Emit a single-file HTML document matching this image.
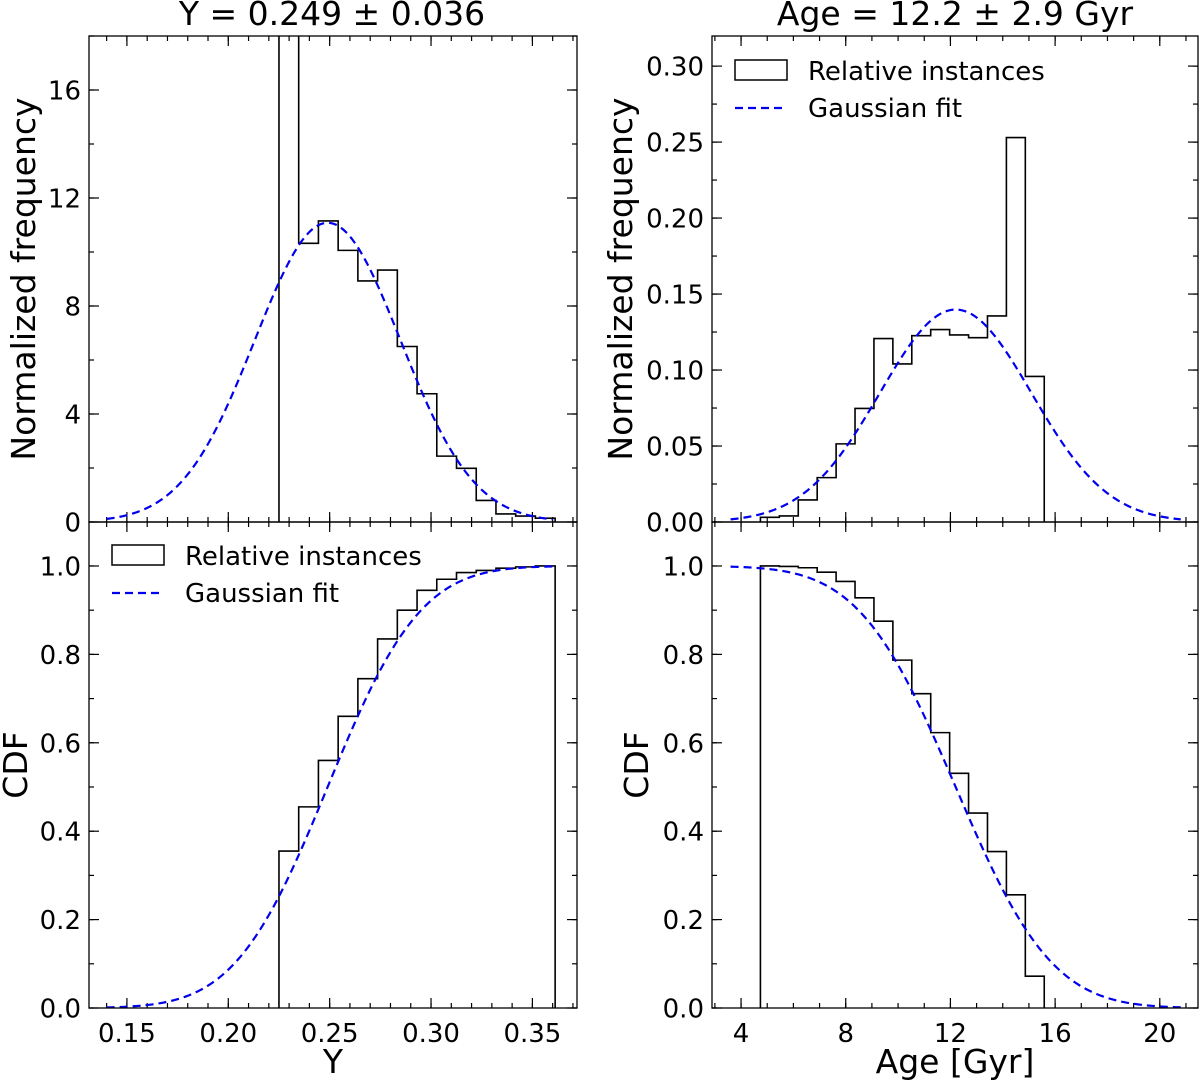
<!DOCTYPE html>
<html><head><meta charset="utf-8">
<style>
html,body{margin:0;padding:0;background:#fff;}
svg{display:block;font-family:"DejaVu Sans","Liberation Sans",sans-serif;}
</style></head>
<body>
<svg id="fig" width="1200" height="1080" viewBox="0 0 1200 1080" xmlns="http://www.w3.org/2000/svg"></svg>
<script>
// ---------- data ----------
const yBinStart = 0.2250;
const yBinWidth = 0.00973;
const yHistValues = [37.5,10.32,11.15,10.06,8.93,9.33,6.5,4.75,2.44,1.99,0.80,0.30,0.22,0.14];
const yCdfValues = [0.355,0.455,0.56,0.66,0.745,0.835,0.9,0.945,0.97,0.985,0.99,0.995,0.998,1.0];
const yFitMean = 0.249;
const yFitSigma = 0.036;

const ageBinStart = 4.74;
const ageBinWidth = 0.723;
const ageHistValues = [0.0031,0.004,0.0145,0.0292,0.0514,0.0747,0.1207,0.104,0.1226,0.1266,0.1231,0.1213,0.1356,0.253,0.0958];
const ageCdfValues = [1.0,0.999,0.996,0.986,0.965,0.928,0.875,0.787,0.711,0.623,0.531,0.441,0.354,0.256,0.072];
const ageFitMean = 12.2;
const ageFitSigma = 2.9;
const ageFitPeak = 0.1398;

const yXTicks = ["0.15","0.20","0.25","0.30","0.35"];
const ageXTicks = ["4","8","12","16","20"];
const freqYTicks = ["0","4","8","12","16"];
const ageFreqTicks = ["0.00","0.05","0.10","0.15","0.20","0.25","0.30"];
const cdfTicks = ["0.0","0.2","0.4","0.6","0.8","1.0"];

// ---------- helpers ----------
const NS="http://www.w3.org/2000/svg";
const svg=document.getElementById('fig');
function mk(tag,attrs,parent){const e=document.createElementNS(NS,tag);for(const k in attrs)e.setAttribute(k,attrs[k]);(parent||svg).appendChild(e);return e;}
function scale(d0,d1,p0,p1){return v=>p0+(v-d0)*(p1-p0)/(d1-d0);}
function erf(x){const s=Math.sign(x);x=Math.abs(x);const t=1/(1+0.3275911*x);const y=1-(((((1.061405429*t-1.453152027)*t)+1.421413741)*t-0.284496736)*t+0.254829592)*t*Math.exp(-x*x);return s*y;}

const TICKFS=26;
function panel(name,L,T,R,B,xd,yd,xMaj,xMin,yMaj,yMin,xLabels,yLabels,showXLabels){
  const g=mk('g',{});
  
  
  const sx=scale(xd[0],xd[1],L,R), sy=scale(yd[0],yd[1],B,T);
  const ticks=mk('g',{stroke:'#000','stroke-width':1.2},g);
  
  
  function xt(v,len){const x=sx(v);if(x<L-0.5||x>R+0.5)return;mk('line',{x1:x,y1:B,x2:x,y2:B-len},ticks);mk('line',{x1:x,y1:T,x2:x,y2:T+len},ticks);}
  function yt(v,len){const y=sy(v);if(y<T-0.5||y>B+0.5)return;mk('line',{x1:L,y1:y,x2:L+len,y2:y},ticks);mk('line',{x1:R,y1:y,x2:R-len,y2:y},ticks);}
  for(let v=Math.ceil(xd[0]/xMin-1e-9)*xMin;v<=xd[1]+1e-9;v+=xMin)xt(v,5);
  for(let v=Math.ceil(yd[0]/yMin-1e-9)*yMin;v<=yd[1]+1e-9;v+=yMin)yt(v,5);
  xLabels.forEach(s=>{const v=parseFloat(s);xt(v,10);
    if(showXLabels){const t=mk('text',{x:sx(v),y:B+34,'font-size':TICKFS,'text-anchor':'middle',fill:'#000'},g);t.textContent=s;
      }});
  yLabels.forEach(s=>{const v=parseFloat(s);yt(v,10);
    const t=mk('text',{x:L-8,y:sy(v)+9.5,'font-size':TICKFS,'text-anchor':'end',fill:'#000'},g);t.textContent=s;
    });
  return {g,sx,sy,L,T,R,B};
}
function histPath(p,start,w,vals){
  let d=`M${p.sx(start)},${p.sy(0)}`;
  vals.forEach((v,i)=>{const x0=p.sx(start+i*w),x1=p.sx(start+(i+1)*w),y=Math.max(p.sy(v),p.T-50);d+=` L${x0},${y} L${x1},${y}`;});
  d+=` L${p.sx(start+vals.length*w)},${p.sy(0)}`;
  return d;
}
function drawHist(p,start,w,vals,name){
  const cp='clip-'+name;
  const c=mk('clipPath',{id:cp});mk('rect',{x:p.L,y:p.T,width:p.R-p.L,height:p.B-p.T},c);
  const e=mk('path',{d:histPath(p,start,w,vals),fill:'none',stroke:'#000','stroke-width':1.6,'clip-path':`url(#${cp})`},p.g);
  
  
}
function drawCurve(p,x0,x1,f,name){
  let d='';const n=200;
  for(let i=0;i<=n;i++){const x=x0+(x1-x0)*i/n;d+=(i?' L':'M')+p.sx(x).toFixed(2)+','+p.sy(f(x)).toFixed(2);}
  const e=mk('path',{d,fill:'none',stroke:'#0000ee','stroke-width':2.2,'stroke-dasharray':'8,5'},p.g);
  
  
}
function frame(p){const r=mk('rect',{x:p.L,y:p.T,width:p.R-p.L,height:p.B-p.T,fill:'none',stroke:'#000','stroke-width':1.3},p.g);
  }
function text(x,y,s,size,name,rot,anchor){
  const t=mk('text',{x,y,'font-size':size,'text-anchor':anchor||'middle',fill:'#000'});
  if(rot)t.setAttribute('transform',`rotate(-90 ${x} ${y})`);
  t.textContent=s;return t;
}
function legend(x,y,name){
  const g=mk('g',{});
  
  
  mk('rect',{x:x,y:y,width:52,height:20,fill:'none',stroke:'#000','stroke-width':1.5},g);
  const t1=mk('text',{x:x+73,y:y+20,'font-size':26,fill:'#000'},g);t1.textContent='Relative instances';
  
  mk('line',{x1:x,y1:y+48,x2:x+52,y2:y+48,stroke:'#0000ee','stroke-width':2.2,'stroke-dasharray':'8,5'},g);
  const t2=mk('text',{x:x+73,y:y+57,'font-size':26,fill:'#000'},g);t2.textContent='Gaussian fit';
  
}

// ---------- panels ----------
const LX=[0.1313,0.3720], RX=[2.89,21.46];
const p1=panel('y-histogram-panel',89,36,577,522,LX,[0,18],0.05,0.01,4,2,yXTicks,freqYTicks,false);
drawHist(p1,yBinStart,yBinWidth,yHistValues,'y-histogram');
const amp=1/(yFitSigma*Math.sqrt(2*Math.PI));
drawCurve(p1,0.14,0.36,x=>amp*Math.exp(-0.5*((x-yFitMean)/yFitSigma)**2),'y-gaussian-fit');
frame(p1);

const p2=panel('age-histogram-panel',712,36,1198,522,RX,[0,0.3198],4,1,0.05,0.025,ageXTicks,ageFreqTicks,false);
drawHist(p2,ageBinStart,ageBinWidth,ageHistValues,'age-histogram');
drawCurve(p2,3.6,20.8,x=>ageFitPeak*Math.exp(-0.5*((x-ageFitMean)/ageFitSigma)**2),'age-gaussian-fit');
frame(p2);
legend(735,60,'legend-top-right');

const p3=panel('y-cdf-panel',89,522,577,1008,LX,[0,1.0995],0.05,0.01,0.2,0.1,yXTicks,cdfTicks,true);
drawHist(p3,yBinStart,yBinWidth,yCdfValues,'y-cdf-histogram');
drawCurve(p3,0.14,0.36,x=>0.5*(1+erf((x-yFitMean)/(yFitSigma*Math.SQRT2))),'y-cdf-gaussian');
frame(p3);
legend(112,545,'legend-bottom-left');

const p4=panel('age-cdf-panel',712,522,1198,1008,RX,[0,1.0995],4,1,0.2,0.1,ageXTicks,cdfTicks,true);
drawHist(p4,ageBinStart,ageBinWidth,ageCdfValues,'age-cdf-histogram');
drawCurve(p4,3.6,20.8,x=>1-0.5*(1+erf((x-ageFitMean)/(ageFitSigma*Math.SQRT2))),'age-cdf-gaussian');
frame(p4);

// ---------- titles & labels ----------
text(332,25,'Y = 0.249 ± 0.036',33,'left-title');
text(955,25,'Age = 12.2 ± 2.9 Gyr',33,'right-title');
text(35,279,'Normalized frequency',33,'left-y-axis-title',true);
text(632,279,'Normalized frequency',33,'right-y-axis-title',true);
text(27,765,'CDF',33,'left-cdf-axis-title',true);
text(648,765,'CDF',33,'right-cdf-axis-title',true);
text(333,1073,'Y',33,'left-x-axis-title');
text(955,1073,'Age [Gyr]',33,'right-x-axis-title');
</script>
</body></html>
